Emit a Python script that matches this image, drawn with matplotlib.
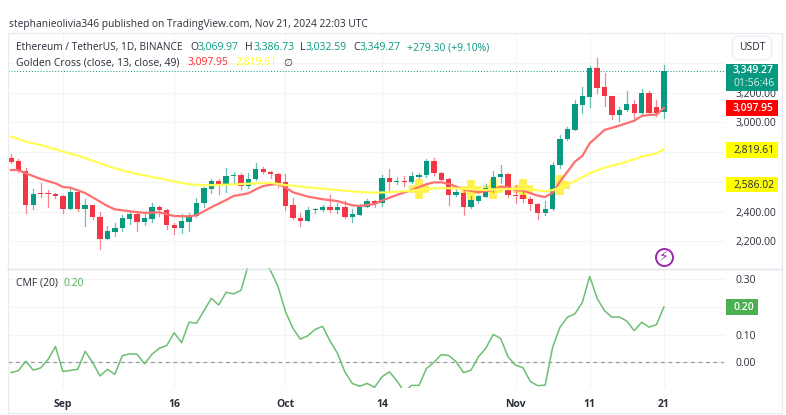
import matplotlib
matplotlib.use('Agg')
import matplotlib.pyplot as plt
from matplotlib.patches import Rectangle

plt.rcParams['font.family'] = ['Open Sans', 'DejaVu Sans']

# Candles, Aug 25 to Nov 21 2024
opens = [2763, 2738, 2676, 2447, 2525, 2527, 2521, 2505, 2420, 2534, 2415, 2444, 2361, 2218, 2265, 2290, 2352, 2382, 2332, 2350,
         2433, 2411, 2310, 2287, 2332, 2368, 2456, 2554, 2604, 2577, 2640, 2646, 2572, 2620, 2687, 2669, 2651, 2597, 2442, 2357,
         2339, 2411, 2409, 2433, 2413, 2431, 2364, 2379, 2431, 2469, 2460, 2624, 2602, 2606, 2597, 2635, 2644, 2738, 2662, 2617,
         2514, 2527, 2431, 2474, 2501, 2559, 2631, 2653, 2512, 2510, 2487, 2451, 2388, 2415, 2714, 2887, 2952, 3120, 3174, 3365,
         3237, 3178, 3053, 3084, 3125, 3062, 3199, 3102, 3069.97]
highs = [2788, 2752, 2691, 2550, 2590, 2545, 2527, 2510, 2563, 2545, 2483, 2444, 2400, 2303, 2321, 2377, 2400, 2393, 2382, 2456,
         2438, 2418, 2325, 2384, 2388, 2489, 2568, 2617, 2617, 2696, 2664, 2658, 2662, 2725, 2698, 2676, 2658, 2653, 2489, 2393,
         2433, 2426, 2444, 2512, 2460, 2471, 2415, 2451, 2483, 2478, 2646, 2685, 2635, 2640, 2664, 2662, 2754, 2761, 2669, 2624,
         2557, 2557, 2505, 2512, 2584, 2673, 2714, 2662, 2579, 2534, 2496, 2460, 2474, 2736, 2916, 2967, 3152, 3241, 3383, 3434,
         3331, 3178, 3107, 3212, 3152, 3223, 3214, 3152, 3386.73]
lows = [2729, 2667, 2388, 2415, 2501, 2429, 2489, 2393, 2415, 2406, 2303, 2352, 2146, 2213, 2236, 2269, 2317, 2272, 2310, 2332,
        2370, 2281, 2247, 2258, 2272, 2361, 2433, 2523, 2519, 2532, 2590, 2550, 2557, 2613, 2658, 2624, 2568, 2411, 2348, 2303,
        2339, 2393, 2404, 2400, 2393, 2355, 2328, 2375, 2429, 2429, 2438, 2534, 2584, 2572, 2590, 2628, 2635, 2646, 2606, 2444,
        2505, 2377, 2426, 2460, 2496, 2534, 2590, 2501, 2460, 2465, 2411, 2348, 2377, 2411, 2691, 2882, 2950, 3062, 3102, 3201,
        3111, 3024, 3012, 3077, 3028, 3057, 3057, 3044, 3032.59]
closes = [2736, 2676, 2447, 2521, 2521, 2521, 2503, 2420, 2532, 2415, 2444, 2361, 2218, 2267, 2292, 2355, 2382, 2332, 2355, 2433,
          2411, 2308, 2290, 2334, 2370, 2456, 2557, 2604, 2577, 2640, 2649, 2572, 2622, 2687, 2667, 2651, 2595, 2438, 2355, 2339,
          2411, 2415, 2433, 2413, 2433, 2364, 2382, 2433, 2471, 2456, 2624, 2599, 2606, 2599, 2637, 2644, 2741, 2658, 2613, 2514,
          2530, 2431, 2478, 2503, 2559, 2633, 2653, 2510, 2503, 2487, 2451, 2388, 2415, 2714, 2891, 2954, 3122, 3176, 3365, 3235,
          3176, 3051, 3084, 3125, 3066, 3201, 3062, 3064, 3349.27]

# Moving averages, read at these candle numbers
fast_idx = [0, 1, 2, 4, 6, 7, 8, 10, 12, 13, 14, 16, 18, 20, 22, 24, 25, 27, 29, 30, 32, 33, 34, 35, 36, 37, 38, 40, 42, 44, 46, 47,
            49, 50, 52, 54, 56, 57, 58, 59, 61, 63, 65, 66, 67, 68, 69, 71, 72, 73, 74, 76, 77, 78, 80, 82, 84, 85, 86, 87, 88]
fast_ma = [2680, 2680, 2658, 2620, 2590, 2566, 2561, 2525, 2467, 2438, 2415, 2402, 2391, 2395, 2370, 2368, 2375, 2429, 2478, 2505,
           2523, 2550, 2572, 2581, 2586, 2563, 2530, 2501, 2483, 2471, 2442, 2438, 2451, 2474, 2512, 2545, 2584, 2597, 2597, 2586,
           2550, 2530, 2545, 2568, 2563, 2545, 2541, 2507, 2498, 2527, 2602, 2736, 2774, 2860, 2950, 2979, 3012, 3044, 3051, 3053, 3097.95]
slow_idx = [0, 1, 2, 4, 7, 9, 11, 14, 17, 20, 22, 24, 26, 29, 33, 35, 37, 40, 44, 47, 49, 51, 54, 56, 58, 61, 64, 66, 68, 70, 72, 73,
            75, 78, 80, 83, 85, 87, 88]
slow_ma = [2905, 2889, 2871, 2849, 2804, 2777, 2743, 2691, 2653, 2624, 2602, 2584, 2577, 2581, 2590, 2594, 2579, 2563, 2545, 2532,
           2527, 2530, 2541, 2552, 2559, 2554, 2545, 2552, 2552, 2550, 2536, 2545, 2579, 2658, 2696, 2736, 2770, 2792, 2819.61]

# Golden cross marks
cross_idx = [55, 62, 65, 69, 74]
cross_price = [2552, 2545, 2550, 2550, 2579]

cmf = [-0.037, -0.030, 0.004, -0.028, -0.020, 0.011, 0.057, -0.033, -0.029, -0.025, 0.040, 0.000, -0.049, -0.025, -0.043,
       0.024, 0.031, 0.029, -0.005, 0.029, 0.051, 0.061, 0.107, 0.071, 0.145, 0.141, 0.186, 0.231, 0.207, 0.253, 0.247, 0.260,
       0.352, 0.380, 0.370, 0.330, 0.273, 0.183, 0.123, 0.084, 0.096, 0.119, 0.130, 0.077, 0.033, -0.034, -0.076, -0.086, -0.076,
       -0.090, -0.052, -0.034, -0.066, -0.106, -0.083, -0.083, -0.022, 0.000, 0.028, 0.025, 0.002, -0.037, -0.028, 0.020, 0.051,
       0.101, 0.086, 0.020, -0.010, -0.019, -0.069, -0.084, -0.082, 0.054, 0.127, 0.163, 0.175, 0.216, 0.310, 0.231, 0.186,
       0.163, 0.164, 0.149, 0.114, 0.145, 0.127, 0.136, 0.200]

time_ticks = [7, 22, 37, 50, 68, 78, 88]
time_labels = ['Sep', '16', 'Oct', '14', 'Nov', '11', '21']
price_ticks = [2200, 2400, 2600, 2800, 3000, 3200, 3400]
price_labels = ['2,200.00', '2,400.00', '', '', '3,000.00', '3,200.00', '']
cmf_ticks = [0.0, 0.1, 0.2, 0.3]
cmf_labels = ['0.00', '0.10', '', '0.30']

GREEN = '#089981'
RED = '#F23645'
DARK = '#2a2e39'
W, H = 786, 415


def pane(left, top, right, bottom):
    return fig.add_axes([left / W, 1 - bottom / H, (right - left) / W, (bottom - top) / H])


def label(px, py, text, color=DARK, size=7.5, **kw):
    fig.text(px / W, 1 - py / H, text, fontsize=size, color=color, va='center', **kw)


def box(left, top, right, bottom, color):
    fig.add_artist(Rectangle((left / W, 1 - bottom / H), (right - left) / W, (bottom - top) / H, transform=fig.transFigure,
                             facecolor=color, edgecolor='none', zorder=1))


fig = plt.figure(figsize=(W / 100, H / 100), dpi=100)
ax = pane(8, 34, 724, 268)
ax2 = pane(8, 268, 724, 388)

for a in (ax, ax2):
    a.set_xlim(-0.4, 96.1)
    a.set_xticks(time_ticks)
    a.grid(True, color='#f3f4f6', linewidth=0.8)
    a.set_axisbelow(True)
    a.yaxis.tick_right()
    a.tick_params(length=0, labelsize=7.5, labelcolor=DARK, pad=8)
    for s in a.spines.values():
        s.set_visible(False)

ax.set_ylim(2020, 3596)
ax.set_yticks(price_ticks)
ax.set_yticklabels(price_labels)
ax.tick_params(labelbottom=False)

# Crosses go under everything else
ax.plot(cross_idx, cross_price, linestyle='none', marker='+', markersize=15, markeredgewidth=5.5, color='#FFF04D', zorder=2)

for i in range(len(opens)):
    c = GREEN if closes[i] >= opens[i] else RED
    ax.plot([i, i], [lows[i], highs[i]], color=c, linewidth=0.9, alpha=0.6, zorder=3)
    lo, hi = min(opens[i], closes[i]), max(opens[i], closes[i])
    ax.add_patch(Rectangle((i - 0.36, lo), 0.72, max(hi - lo, 4), color=c, linewidth=0, zorder=4))

ax.plot(fast_idx, fast_ma, color='#FF6F6F', linewidth=1.6, zorder=5)
ax.plot(slow_idx, slow_ma, color='#FFFF55', linewidth=1.6, zorder=5)
ax.axhline(closes[-1], color=GREEN, linewidth=0.7, linestyle=(0, (1, 2)), zorder=2)

label(9, 24, 'stephanieolivia346 published on TradingView.com, Nov 21, 2024 22:03 UTC', size=7.35)

# Legend rows
label(16, 47.5, 'Ethereum / TetherUS, 1D, BINANCE', size=7.3)
for px, txt, col in [(190, 'O', DARK), (198, '3,069.97', GREEN), (245, 'H', DARK), (253, '3,386.73', GREEN),
                     (300, 'L', DARK), (306, '3,032.59', GREEN), (353, 'C', DARK), (360, '3,349.27', GREEN),
                     (407, '+279.30 (+9.10%)', GREEN)]:
    label(px, 47.5, txt, col)
label(16, 63, 'Golden Cross (close, 13, close, 49)', size=7.5)
label(187, 63, '3,097.95', '#FF2D2D')
label(235, 63, '2,819.61', '#FFFF1A')
label(283, 63, '∅')

# Price tags on the right
box(725.5, 64, 778, 91.5, GREEN)
label(733, 71, '3,349.27', 'white', fontweight='semibold')
label(733, 84, '01:56:46', '#d5efe9')
box(725.5, 100.5, 778, 116, '#FF0000')
label(733, 108.5, '3,097.95', 'white', fontweight='semibold')
box(725.5, 142, 778, 157.5, '#FFFF00')
label(733, 150, '2,819.61')
box(725.5, 177, 778, 192.5, '#FFFF00')
label(733, 185, '2,586.02')
box(725.5, 299, 758, 315, '#4CAF50')
label(733, 307, '0.20', 'white', fontweight='semibold')

label(752, 48, 'USDT', size=7.5, ha='center',
      bbox=dict(boxstyle='round,pad=0.6', fc='white', ec='#eceef3'))

# Lightning badge
ax.scatter([88], [2094], s=150, facecolor='white', edgecolor='#9C27B0', linewidth=1.4, zorder=6, clip_on=False)
ax.text(88, 2094, '⚡', color='#9C27B0', fontsize=10, ha='center', va='center', zorder=7, family='DejaVu Sans')

ax2.set_ylim(-0.0924, 0.3404)
ax2.set_yticks(cmf_ticks)
ax2.set_yticklabels(cmf_labels)
ax2.set_xticklabels(time_labels, fontweight='bold', color=DARK)
ax2.tick_params(axis='x', pad=8, labelsize=7.5)
ax2.axhline(0, color='#9598a1', linewidth=0.9, linestyle=(0, (3, 3)))
ax2.plot(range(len(cmf)), cmf, color='#6CBF70', linewidth=1.1)
label(16, 283, 'CMF (20)')
label(64, 283, '0.20', '#4CAF50')

# Outer frame and pane divider
fig.add_artist(Rectangle((8 / W, 1 - 412.5 / H), 774 / W, 379.5 / H, transform=fig.transFigure,
                         facecolor='none', edgecolor='#e9ebf1', linewidth=1, zorder=1))
fig.add_artist(plt.Line2D([8 / W, 782 / W], [1 - 268.5 / H, 1 - 268.5 / H], color='#e0e3eb', linewidth=1, zorder=1))

fig.savefig('out.png', dpi=100, facecolor='white')
